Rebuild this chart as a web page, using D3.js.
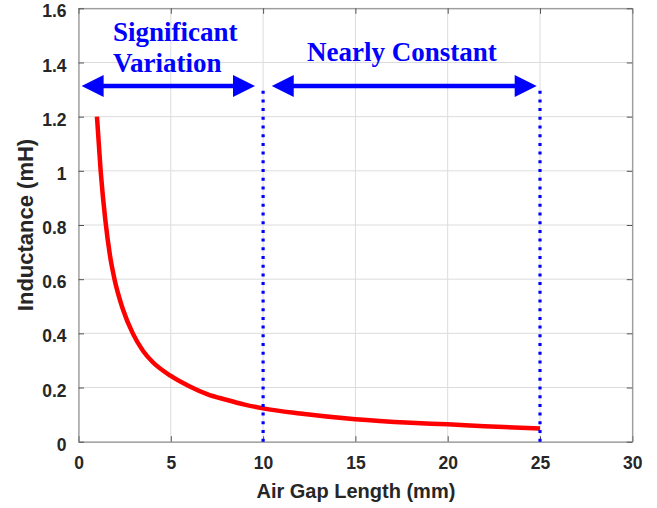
<!DOCTYPE html>
<html>
<head>
<meta charset="utf-8">
<script src="https://cdn.jsdelivr.net/npm/d3@7"></script>
<style>
  body { margin: 0; background: #fff; }
  svg { display: block; }
</style>
</head>
<body>
<svg id="chart"></svg>
<script>
// values
const gapMm = [1.0, 1.2, 1.45, 1.7, 1.95, 2.4, 2.94, 3.5, 4, 5, 6, 7, 8, 9, 10, 12, 15, 18, 20, 22, 25];
const inductanceMh = [1.2, 1.0, 0.82, 0.69, 0.6, 0.49, 0.4, 0.335, 0.295, 0.243, 0.205, 0.175, 0.155, 0.137, 0.123, 0.104, 0.083, 0.07, 0.064, 0.057, 0.049];
const xTicks = [0, 5, 10, 15, 20, 25, 30];
const yTicks = [0, 0.2, 0.4, 0.6, 0.8, 1, 1.2, 1.4, 1.6];
const boundaries = [10, 25];
const arrowLevel = 1.313;
const arrowSpans = [[0.17, 9.56], [10.47, 24.82]];

const width = 657;
const height = 508;
const margin = { top: 8.3, right: 24.7, bottom: 66.3, left: 78.5 };

const svg = d3.select("#chart").attr("width", width).attr("height", height);

const x = d3.scaleLinear().domain([0, 30]).range([margin.left, width - margin.right]);
const y = d3.scaleLinear().domain([0, 1.6]).range([height - margin.bottom, margin.top]);

const font = "'Liberation Sans', Arial, sans-serif";
const serif = "'Liberation Serif', 'Times New Roman', serif";

// grid
svg.append("g")
  .selectAll("line")
  .data(xTicks)
  .join("line")
  .attr("x1", (d) => x(d)).attr("x2", (d) => x(d))
  .attr("y1", y(0)).attr("y2", y(1.6))
  .attr("stroke", "#dcdcdc").attr("stroke-width", 1);

svg.append("g")
  .selectAll("line")
  .data(yTicks)
  .join("line")
  .attr("x1", x(0)).attr("x2", x(30))
  .attr("y1", (d) => y(d)).attr("y2", (d) => y(d))
  .attr("stroke", "#dcdcdc").attr("stroke-width", 1);

// axes with inward ticks on all sides
const tickLen = 5.5;
const fmt = (d) => d3.format("")(d);

const axisStyle = (g) => {
  g.select(".domain").attr("stroke", "#808080");
  g.selectAll(".tick line").attr("stroke", "#555");
  g.selectAll(".tick text")
    .attr("fill", "#262626")
    .style("font-family", font)
    .style("font-weight", "bold")
    .style("font-size", "17.5px");
};

svg.append("g")
  .attr("transform", `translate(0,${y(0)})`)
  .call(d3.axisBottom(x).tickValues(xTicks).tickFormat(fmt).tickSizeInner(-tickLen).tickSizeOuter(0).tickPadding(15))
  .call(axisStyle);

svg.append("g")
  .attr("transform", `translate(0,${y(1.6)})`)
  .call(d3.axisTop(x).tickValues(xTicks).tickFormat("").tickSizeInner(-tickLen).tickSizeOuter(0))
  .call(axisStyle);

svg.append("g")
  .attr("transform", `translate(${x(0)},0)`)
  .call(d3.axisLeft(y).tickValues(yTicks).tickFormat(fmt).tickSizeInner(-tickLen).tickSizeOuter(0).tickPadding(12))
  .call(axisStyle)
  .call((g) => g.selectAll(".tick text").attr("dy", "0.49em"));

svg.append("g")
  .attr("transform", `translate(${x(30)},0)`)
  .call(d3.axisRight(y).tickValues(yTicks).tickFormat("").tickSizeInner(-tickLen).tickSizeOuter(0))
  .call(axisStyle);

// axis titles
svg.append("text")
  .attr("x", (x(0) + x(30)) / 2 + 0.5)
  .attr("y", 497.5)
  .attr("text-anchor", "middle")
  .attr("fill", "#262626")
  .style("font-family", font)
  .style("font-weight", "bold")
  .style("font-size", "20px")
  .text("Air Gap Length (mm)");

svg.append("text")
  .attr("transform", `translate(33,${(y(0) + y(1.6)) / 2}) rotate(-90)`)
  .attr("text-anchor", "middle")
  .attr("fill", "#262626")
  .style("font-family", font)
  .style("font-weight", "bold")
  .style("font-size", "22px")
  .text("Inductance (mH)");

// curve
const points = gapMm.map((g, i) => [g, inductanceMh[i]]);
svg.append("path")
  .datum(points)
  .attr("fill", "none")
  .attr("stroke", "#ff0000")
  .attr("stroke-width", 4.5)
  .attr("d", d3.line().x((d) => x(d[0])).y((d) => y(d[1])).curve(d3.curveMonotoneX));

// dotted boundaries
svg.append("g")
  .selectAll("line")
  .data(boundaries)
  .join("line")
  .attr("x1", (d) => x(d)).attr("x2", (d) => x(d))
  .attr("y1", y(0)).attr("y2", y(arrowLevel))
  .attr("stroke", "#0000ff")
  .attr("stroke-width", 3.2)
  .attr("stroke-dasharray", "3,5.7");

// double-headed arrows
const headLen = 22;
const headHalf = 11;
const arrows = svg.append("g");
arrowSpans.forEach(([a, b]) => {
  const x1 = x(a), x2 = x(b), yy = y(arrowLevel);
  arrows.append("line")
    .attr("x1", x1 + headLen - 2).attr("x2", x2 - headLen + 2)
    .attr("y1", yy).attr("y2", yy)
    .attr("stroke", "#0000ff").attr("stroke-width", 4.5);
  arrows.append("path")
    .attr("d", `M${x1},${yy}L${x1 + headLen},${yy - headHalf}L${x1 + headLen},${yy + headHalf}Z`)
    .attr("fill", "#0000ff");
  arrows.append("path")
    .attr("d", `M${x2},${yy}L${x2 - headLen},${yy - headHalf}L${x2 - headLen},${yy + headHalf}Z`)
    .attr("fill", "#0000ff");
});

// annotations
const notes = [
  { text: "Significant", gx: 1.87, val: 1.48 },
  { text: "Variation", gx: 1.87, val: 1.366 },
  { text: "Nearly Constant", gx: 12.38, val: 1.405 },
];
svg.append("g")
  .selectAll("text")
  .data(notes)
  .join("text")
  .attr("x", (d) => x(d.gx))
  .attr("y", (d) => y(d.val))
  .attr("fill", "#0000ff")
  .style("font-family", serif)
  .style("font-weight", "bold")
  .style("font-size", "27px")
  .text((d) => d.text);
</script>
</body>
</html>
